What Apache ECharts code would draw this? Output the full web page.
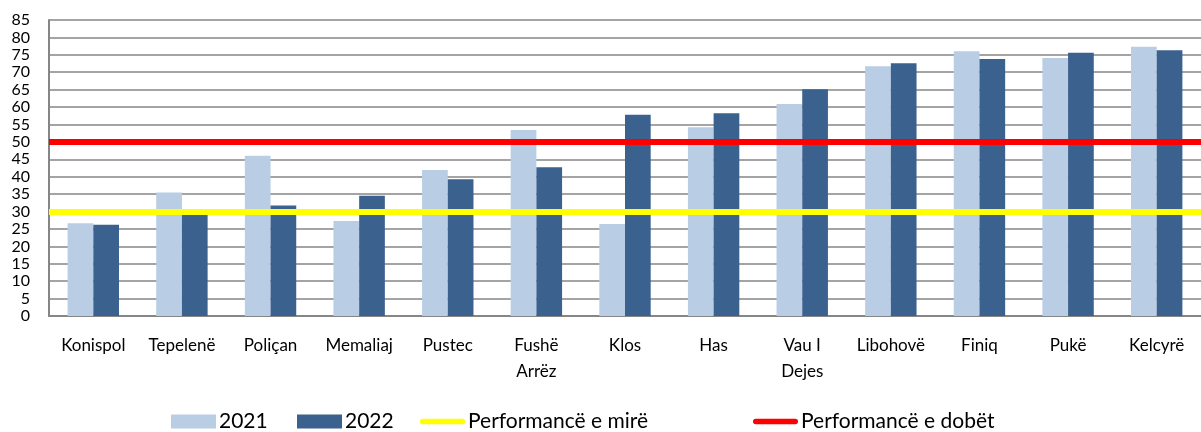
<!DOCTYPE html>
<html>
<head>
<meta charset="utf-8">
<script src="https://cdn.jsdelivr.net/npm/echarts@6/dist/echarts.min.js"></script>
<style>
  html, body { margin: 0; padding: 0; background: #fff; }
  #chart { width: 1201px; height: 432px; }
</style>
</head>
<body>
<div id="chart"></div>
<script>
// municipalities
const categories = ['Konispol', 'Tepelenë', 'Poliçan', 'Memaliaj', 'Pustec', 'Fushë\nArrëz', 'Klos', 'Has', 'Vau I\nDejes', 'Libohovë', 'Finiq', 'Pukë', 'Kelcyrë']
const values2021 = [26.6, 35.5, 46.0, 27.3, 41.9, 53.4, 26.4, 54.2, 60.9, 71.7, 76.0, 74.1, 77.3]
const values2022 = [26.2, 29.5, 31.7, 34.5, 39.3, 42.7, 57.8, 58.2, 65.1, 72.6, 73.8, 75.6, 76.3]
// threshold lines
const goodLevel = 30
const poorLevel = 50
const seriesNames = ['2021', '2022', 'Performancë e mirë', 'Performancë e dobët']

const FONT = 'Lato, "Liberation Sans", sans-serif'
// rounded thick line used as legend icon for the threshold lines
const LINE_ICON = 'path://M3,0H47A3,3,0,0,1,47,6H3A3,3,0,0,1,3,0Z'

// one legend per entry so each sits where the original has it
const legendLeft = [171, 297, 420, 753]
const legendIcon = ['rect', 'rect', LINE_ICON, LINE_ICON]
const legends = seriesNames.map((name, i) => ({
  top: 411,
  left: legendLeft[i],
  itemWidth: 45,
  itemHeight: 14,
  padding: 0,
  selectedMode: false,
  textStyle: { fontSize: 21, color: '#000', fontFamily: FONT, padding: [0, 0, 0, -2] },
  data: [{ name: name, icon: legendIcon[i] }]
}))

const chart = echarts.init(document.getElementById('chart'))

chart.setOption({
  animation: false,
  textStyle: { fontFamily: FONT },
  grid: { left: 49, right: 0, top: 20, bottom: 116, containLabel: false },
  legend: legends,
  xAxis: {
    type: 'category',
    data: categories,
    axisLine: { lineStyle: { color: '#868686', width: 2 } },
    axisTick: { show: false },
    axisLabel: { color: '#000', fontSize: 17, margin: 17, lineHeight: 26, interval: 0 }
  },
  yAxis: {
    type: 'value',
    min: 0,
    max: 85,
    interval: 5,
    axisLine: { show: true, lineStyle: { color: '#868686', width: 2 } },
    axisTick: { show: false },
    axisLabel: { color: '#000', fontSize: 16, margin: 19 },
    splitLine: { lineStyle: { color: '#868686', width: 1.5 } }
  },
  series: [
    {
      name: seriesNames[0],
      type: 'bar',
      data: values2021,
      barWidth: '29%',
      barGap: '0%',
      itemStyle: { color: '#B9CDE5' }
    },
    {
      name: seriesNames[1],
      type: 'bar',
      data: values2022,
      barWidth: '29%',
      itemStyle: { color: '#3B618F' }
    },
    {
      name: seriesNames[2],
      type: 'line',
      data: [],
      symbol: 'none',
      lineStyle: { color: '#FFFF00', width: 6 },
      itemStyle: { color: '#FFFF00' },
      markLine: {
        silent: true,
        symbol: 'none',
        label: { show: false },
        lineStyle: { color: '#FFFF00', width: 6, type: 'solid' },
        data: [{ yAxis: goodLevel }]
      }
    },
    {
      name: seriesNames[3],
      type: 'line',
      data: [],
      symbol: 'none',
      lineStyle: { color: '#FF0000', width: 6 },
      itemStyle: { color: '#FF0000' },
      markLine: {
        silent: true,
        symbol: 'none',
        label: { show: false },
        lineStyle: { color: '#FF0000', width: 6, type: 'solid' },
        data: [{ yAxis: poorLevel }]
      }
    }
  ]
})
</script>
</body>
</html>
